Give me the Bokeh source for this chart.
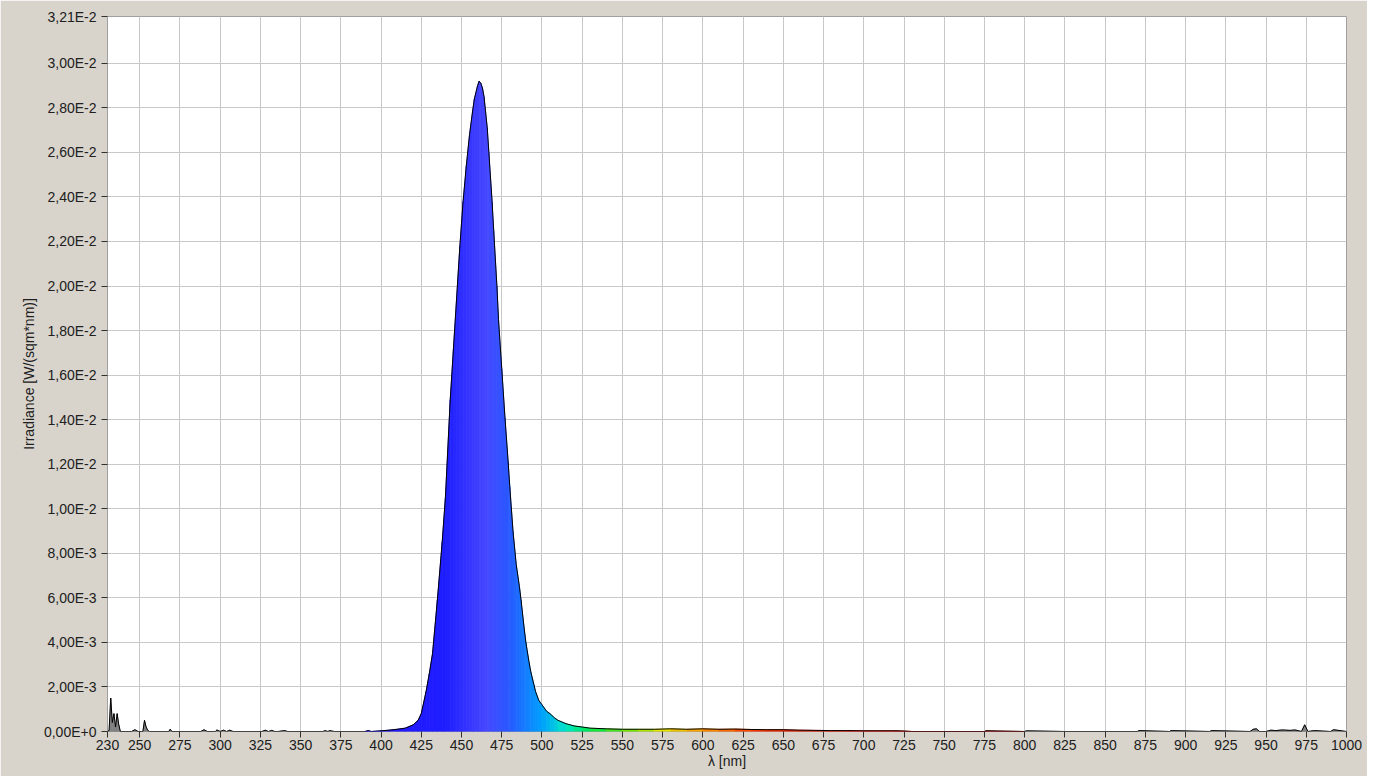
import numpy as np

from bokeh.embed import file_html
from bokeh.models import FixedTicker, ColumnDataSource
from bokeh.plotting import figure
from bokeh.resources import INLINE

# spectrum (nm, W/(sqm*nm))
wl = [230, 231, 232, 233, 234, 235, 236, 237, 238, 245, 247, 249, 252, 253, 254, 255, 256,
      268, 269, 270, 288, 290, 292, 297, 298, 300, 302, 304, 306, 308, 310,
      326, 328, 330, 332, 334, 336, 340, 342, 364, 365, 367, 368, 371, 372, 390, 392, 394,
      400, 405, 410, 415, 420, 423, 425, 428, 430, 432, 435, 438, 440, 443, 445, 447, 449,
      451, 453, 455, 457, 458, 460, 461, 462, 463, 464, 466, 467, 469, 470, 472, 473, 475,
      477, 479, 480, 482, 484, 486, 487, 489, 490, 492, 493, 495, 496, 498, 500, 503, 505,
      508, 510, 515, 520, 525, 530, 540, 550, 560, 570, 580, 590, 600, 610, 620, 630, 640,
      650, 660, 670, 680, 690, 700, 710, 720, 725, 730, 750, 775, 776, 800, 801, 825, 850,
      870, 871, 890, 891, 915, 916, 940, 942, 944, 946, 950, 953, 956, 960, 965, 968, 972,
      974, 976, 980, 990, 992, 1000]
irr = [0.0, 0.00005, 0.0015, 0.0004, 0.0008, 0.0002, 0.0008, 0.0003, 0.0, 0.0, 0.00008, 0.0,
       0.0, 0.0005, 0.0002, 0.00005, 0.0, 0.0, 0.0001, 0.0, 0.0, 0.00008, 0.0, 0.0, 0.00007,
       0.0, 0.00006, 0.0, 0.00006, 0.0, 0.0, 0.0, 0.00006, 0.0, 0.00005, 0.0, 0.0, 0.00004, 0.0,
       0.0, 0.00004, 0.0, 0.00004, 0.0, 0.0, 0.0, 0.00004, 0.0,
       0.00003, 0.00006, 0.0001, 0.00015, 0.0003, 0.0005, 0.0008, 0.0018, 0.0026, 0.0035,
       0.0059, 0.0085, 0.0105, 0.0149, 0.0172, 0.0195, 0.0218, 0.0238, 0.0254, 0.0268,
       0.0279, 0.0284, 0.029, 0.0292, 0.0291, 0.0289, 0.0285, 0.0271, 0.026, 0.0238, 0.0225,
       0.0200, 0.0185, 0.0163, 0.0141, 0.0121, 0.0110, 0.0090, 0.0075, 0.0065, 0.0059, 0.0046,
       0.004, 0.0031, 0.0027, 0.0021, 0.0018, 0.0014, 0.0012, 0.0009, 0.0008, 0.0006, 0.0005,
       0.00035, 0.00025, 0.0002, 0.00015, 0.00012, 0.0001, 0.0001, 0.0001, 0.00012, 0.0001,
       0.00012, 0.0001, 0.00011, 0.00009, 0.00008, 0.00008, 0.00006, 0.00005, 0.00004,
       0.00004, 0.00003, 0.00003, 0.00003, 0.00002, 0.0, 0.0, 0.0, 0.00003, 0.0, 0.00003,
       0.0, 0.0, 0.0, 0.00004, 0.0, 0.00004, 0.0, 0.00004, 0.0, 0.0001, 0.00012, 0.0, 0.0,
       0.00006, 0.00004, 0.00007, 0.00005, 0.00007, 0.0, 0.0003, 0.0, 0.00004, 0.0, 0.00008,
       0.0]

y_ticks = [0, 0.002, 0.004, 0.006, 0.008, 0.010, 0.012, 0.014, 0.016, 0.018, 0.020,
           0.022, 0.024, 0.026, 0.028, 0.030, 0.0321]
y_labels = ["0,00E+0", "2,00E-3", "4,00E-3", "6,00E-3", "8,00E-3", "1,00E-2", "1,20E-2",
            "1,40E-2", "1,60E-2", "1,80E-2", "2,00E-2", "2,20E-2", "2,40E-2", "2,60E-2",
            "2,80E-2", "3,00E-2", "3,21E-2"]
x_ticks = [230] + list(range(250, 1001, 25))


def wl_color(w):
    # rough visible-spectrum colour used for the fill
    stops = [(380, (40, 20, 255)), (440, (30, 30, 255)), (465, (70, 70, 255)),
             (480, (40, 90, 255)), (500, (0, 160, 255)), (515, (0, 230, 200)),
             (530, (0, 230, 80)), (555, (120, 230, 0)), (575, (230, 230, 0)),
             (600, (255, 150, 0)), (630, (255, 60, 0)), (700, (220, 0, 0)), (780, (160, 0, 0))]
    if w <= stops[0][0]:
        return "#%02x%02x%02x" % stops[0][1]
    for (a, ca), (b, cb) in zip(stops, stops[1:]):
        if w <= b:
            t = (w - a) / (b - a)
            return "#%02x%02x%02x" % tuple(int(ca[i] + t * (cb[i] - ca[i])) for i in range(3))
    return "#%02x%02x%02x" % stops[-1][1]


p = figure(width=1367, height=776, x_range=(230, 1000), y_range=(0, 0.0321),
           output_backend="svg", toolbar_location=None,
           min_border_left=107, min_border_right=21, min_border_top=16, min_border_bottom=45)
p.border_fill_color = "#d8d4cc"
p.background_fill_color = "white"
p.outline_line_color = "#a0a0a0"

# coloured fill, one strip per segment
xs, ys, cols = [], [], []
for i in range(len(wl) - 1):
    x0, x1 = wl[i], wl[i + 1]
    xs.append([x0, x0, x1, x1])
    ys.append([0, irr[i], irr[i + 1], 0])
    if 380 <= x0 <= 780:
        cols.append(wl_color((x0 + x1) / 2))
    else:
        cols.append("#808080")
p.patches(xs="xs", ys="ys", color="cols", line_width=0.8,
          source=ColumnDataSource(dict(xs=xs, ys=ys, cols=cols)))
p.line(wl, irr, color="black", line_width=1)

p.xaxis.ticker = FixedTicker(ticks=x_ticks)
p.yaxis.ticker = FixedTicker(ticks=y_ticks)
p.yaxis.major_label_overrides = {t: l for t, l in zip(y_ticks, y_labels)}
p.xaxis.axis_label = "λ [nm]"
p.yaxis.axis_label = "Irradiance [W/(sqm*nm)]"
for ax in (p.xaxis, p.yaxis):
    ax.axis_label_text_font = "Liberation Sans"
    ax.axis_label_text_font_style = "normal"
    ax.axis_label_text_font_size = "14px"
    ax.axis_label_text_color = "#202020"
    ax.major_label_text_font = "Liberation Sans"
    ax.major_label_text_font_size = "14px"
    ax.major_label_text_color = "#202020"
    ax.axis_line_color = None
    ax.minor_tick_line_color = None
    ax.major_tick_in = 0
    ax.major_tick_out = 6
    ax.major_tick_line_color = "#303030"
p.xaxis.axis_label_standoff = 0
p.yaxis.axis_label_standoff = 4
p.xaxis.major_label_standoff = 2
p.grid.grid_line_color = "#c8c8c8"
p.grid.grid_line_alpha = 1

open("out.html", "w").write(file_html(p, INLINE))
